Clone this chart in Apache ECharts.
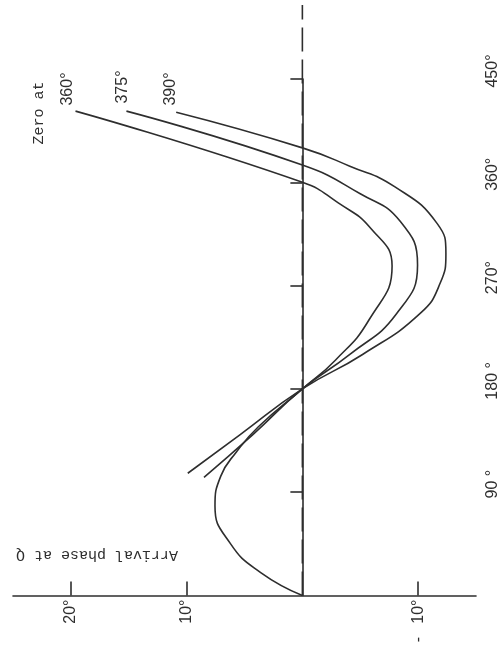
<!DOCTYPE html>
<html>
<head>
<meta charset="utf-8">
<script src="https://cdn.jsdelivr.net/npm/echarts@6/dist/echarts.min.js"></script>
<style>
  html, body { margin: 0; padding: 0; background: #ffffff; }
  #chart { width: 500px; height: 648px; }
</style>
</head>
<body>
<div id="chart"></div>
<script>
// Arrival phase at Q (horizontal, degrees) against phase (vertical, degrees)
// for three curves whose upper zero falls at 360°, 375° and 390°.

// Curve "zero at 360°"
const phase360 = [0, 20, 45, 78, 104, 125, 147, 180, 205, 240, 287, 320, 342, 360, 422];
const value360 = [0, 3.6, 6.2, 7.55, 7.05, 5.7, 3.8, 0, -2.85, -5.75, -7.75, -5.9, -3.1, 0, 19.6];

// Curve "zero at 375°"
const phase375 = [103, 140, 180, 210, 245, 288, 326, 350, 375, 422];
const value375 = [8.5, 4.3, 0, -4.1, -8.1, -9.95, -8.45, -5.0, 0, 15.2];

// Curve "zero at 390°"
const phase390 = [106.5, 140, 180, 210, 246, 272, 298, 324, 356, 374, 390, 421];
const value390 = [9.9, 5.4, 0, -5.2, -10.2, -11.9, -12.4, -11.65, -8.0, -4.1, 0, 10.9];

// Zero reference of the arrival phase
const zeroValue = 0;

// Axis ticks and their labels
const valueTicks = [20, 10, -10];
const valueTickLabels = ['20°', '10°', '-   10°'];
const phaseTicks = [90, 180, 270, 360, 450];
const phaseTickLabels = ['90 °', '180 °', '270°', '360°', '450°'];

// Curve end labels
const curveNames = ['360°', '375°', '390°'];

const ink = '#2e2e2e';
const numFont = 'Liberation Sans';
const typeFont = 'Liberation Mono';

function pairs(vals, phases) {
  return vals.map((v, i) => [v, phases[i]]);
}

const grid = { left: 13, right: 24, top: 79, bottom: 52.5 };

const chart = echarts.init(document.getElementById('chart'), null, { renderer: 'canvas' });

const curveStyle = { color: ink, width: 1.6 };

function curve(name, vals, phases) {
  return {
    type: 'line', name: name, xAxisIndex: 0, yAxisIndex: 0,
    data: pairs(vals, phases), showSymbol: false, smooth: 0.5,
    lineStyle: curveStyle
  };
}

chart.setOption({
  backgroundColor: '#ffffff',
  animation: false,
  grid: [
    Object.assign({ outerBoundsMode: 'none', containLabel: false }, grid),
    { left: grid.left, right: grid.right, top: 5, bottom: grid.bottom, outerBoundsMode: 'none', containLabel: false }
  ],
  xAxis: [
    {
      type: 'value', gridIndex: 0, min: -15, max: 25, inverse: true,
      splitLine: { show: false },
      axisLine: { lineStyle: { color: ink, width: 1.6 } },
      axisTick: { inside: true, length: 14, customValues: valueTicks, lineStyle: { color: ink, width: 1.6 } },
      axisLabel: {
        customValues: valueTicks, rotate: 90, margin: 4,
        fontFamily: numFont, fontSize: 16, color: ink,
        formatter: v => valueTickLabels[valueTicks.indexOf(v)]
      }
    },
    {
      type: 'value', gridIndex: 1, min: -15, max: 25, inverse: true, show: false
    }
  ],
  yAxis: [
    {
      type: 'value', gridIndex: 0, position: 'right', min: 0, max: 450,
      splitLine: { show: false },
      axisLine: { lineStyle: { color: ink, width: 1.6 } },
      axisTick: { inside: true, length: 12, customValues: phaseTicks, lineStyle: { color: ink, width: 1.6 } },
      axisLabel: {
        customValues: phaseTicks, rotate: 90, margin: 9, padding: [0, 0, 0, 16],
        fontFamily: numFont, fontSize: 16, color: ink,
        formatter: v => phaseTickLabels[phaseTicks.indexOf(v)]
      }
    },
    {
      type: 'value', gridIndex: 1, min: 0, max: 1, show: false
    }
  ],
  series: [
    curve(curveNames[0], value360, phase360),
    curve(curveNames[1], value375, phase375),
    curve(curveNames[2], value390, phase390),
    {
      type: 'line', xAxisIndex: 1, yAxisIndex: 1,
      data: [[zeroValue, 0], [zeroValue, 1]], showSymbol: false,
      lineStyle: { color: ink, width: 1.6, type: [24, 8] }
    }
  ],
  graphic: [
    {
      type: 'text', x: 97, y: 555, rotation: Math.PI,
      style: { text: 'Arrival phase at Q', font: '15px "' + typeFont + '"', fill: ink, align: 'center', verticalAlign: 'middle' }
    },
    {
      type: 'text', x: 39, y: 113, rotation: Math.PI / 2,
      style: { text: 'Zero at', font: '15px "' + typeFont + '"', fill: ink, align: 'center', verticalAlign: 'middle' }
    },
    {
      type: 'text', x: 68, y: 89, rotation: Math.PI / 2,
      style: { text: curveNames[0], font: '16px "' + numFont + '"', fill: ink, align: 'center', verticalAlign: 'middle' }
    },
    {
      type: 'text', x: 123, y: 87, rotation: Math.PI / 2,
      style: { text: curveNames[1], font: '16px "' + numFont + '"', fill: ink, align: 'center', verticalAlign: 'middle' }
    },
    {
      type: 'text', x: 171, y: 89, rotation: Math.PI / 2,
      style: { text: curveNames[2], font: '16px "' + numFont + '"', fill: ink, align: 'center', verticalAlign: 'middle' }
    }
  ]
});
</script>
</body>
</html>
